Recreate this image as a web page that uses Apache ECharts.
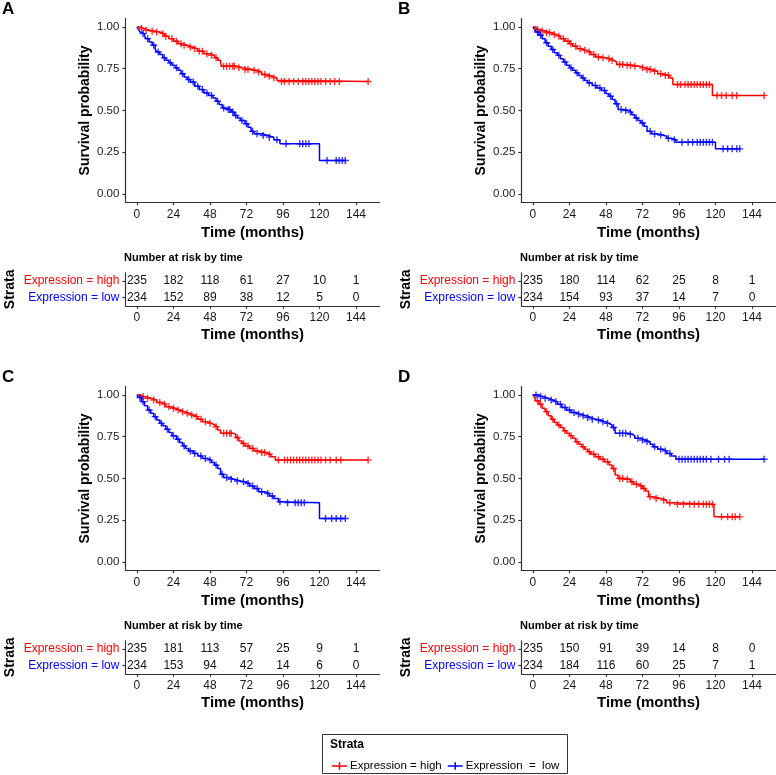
<!DOCTYPE html>
<html><head><meta charset="utf-8">
<script src="https://cdn.jsdelivr.net/npm/echarts@6/dist/echarts.min.js"></script>
<style>html,body{margin:0;padding:0;background:#fff}#c{width:776px;height:775px}</style>
</head><body><div id="c"></div>
<script>
// ---------- data ----------
const timeTicks = [0, 24, 48, 72, 96, 120, 144];
const survTicks = [0, 0.25, 0.5, 0.75, 1];
const strata = ['Expression = low', 'Expression = high'];
const panelLetters = ['A', 'B', 'C', 'D'];

// Panel A
const aHighSteps = [[0,1],[2,0.99],[5,0.98],[8,0.975],[12,0.97],[15,0.96],[18,0.945],[21,0.93],[24,0.915],[27,0.9],[30,0.89],[33,0.88],[36,0.87],[40,0.855],[44,0.84],[48,0.83],[51,0.815],[53,0.8],[55,0.78],[56,0.765],[66,0.755],[70,0.745],[76,0.74],[79,0.73],[82,0.715],[85,0.705],[89,0.695],[92,0.68],[94,0.673],[152,0.673]];
const aHighCensor = [3,6,10,13,17,19,23,26,29,31,35,38,41,43,46,49,52,57,59,61,63,64,67,71,73,77,80,84,87,90,95,97,100,103,106,109,111,113,115,117,119,121,124,127,130,133,152];
const aLowSteps = [[0,1],[1,0.985],[2,0.97],[3,0.96],[5,0.945],[6,0.93],[8,0.91],[10,0.89],[12,0.865],[13,0.85],[15,0.835],[17,0.815],[19,0.8],[21,0.785],[23,0.77],[25,0.755],[27,0.74],[29,0.72],[31,0.7],[33,0.685],[35,0.67],[38,0.645],[41,0.625],[44,0.605],[47,0.59],[50,0.575],[52,0.555],[54,0.535],[56,0.515],[58,0.505],[62,0.49],[64,0.47],[66,0.455],[68,0.44],[71,0.42],[73,0.4],[75,0.375],[77,0.36],[82,0.35],[86,0.34],[90,0.325],[94,0.3],[120,0.2],[137,0.2]];
const aLowCensor = [4,7,11,14,18,22,26,30,34,37,40,43,46,49,53,57,60,61,63,65,69,72,76,79,83,87,92,98,107,109,111,113,125,131,133,135,137];
const aRiskHigh = [235,182,118,61,27,10,1];
const aRiskLow = [234,152,89,38,12,5,0];

// Panel B
const bHighSteps = [[0,1],[2,0.985],[4,0.976],[8,0.965],[12,0.955],[15,0.945],[18,0.93],[21,0.915],[24,0.9],[26,0.885],[29,0.87],[32,0.86],[35,0.85],[38,0.835],[41,0.82],[44,0.815],[48,0.81],[51,0.8],[53,0.79],[55,0.775],[60,0.77],[66,0.765],[70,0.755],[74,0.745],[78,0.735],[82,0.72],[85,0.71],[90,0.695],[92,0.655],[118,0.59],[152,0.59]];
const bHighCensor = [3,6,9,11,14,17,20,23,25,28,31,34,37,40,43,46,50,52,57,59,62,64,67,72,75,77,80,84,87,89,95,97,100,102,104,106,108,110,112,114,116,121,124,127,131,134,152];
const bLowSteps = [[0,1],[1,0.985],[2,0.97],[4,0.95],[6,0.93],[8,0.905],[10,0.885],[12,0.865],[14,0.845],[16,0.83],[18,0.81],[20,0.79],[22,0.77],[24,0.755],[26,0.74],[28,0.725],[30,0.71],[32,0.695],[34,0.68],[36,0.665],[39,0.65],[42,0.635],[45,0.62],[48,0.6],[50,0.585],[52,0.565],[54,0.54],[56,0.505],[60,0.5],[63,0.49],[65,0.475],[67,0.455],[69,0.44],[71,0.425],[73,0.405],[75,0.375],[78,0.36],[81,0.353],[85,0.345],[88,0.333],[91,0.325],[94,0.31],[120,0.27],[136,0.27]];
const bLowCensor = [3,5,9,13,17,21,25,29,33,37,41,44,47,51,55,58,61,64,68,72,77,80,84,89,93,98,102,105,108,110,112,114,116,118,125,128,131,134,136];
const bRiskHigh = [235,180,114,62,25,8,1];
const bRiskLow = [234,154,93,37,14,7,0];

// Panel C
const cHighSteps = [[0,1],[2,0.99],[5,0.98],[9,0.97],[13,0.955],[16,0.945],[19,0.93],[22,0.92],[25,0.91],[28,0.9],[31,0.89],[34,0.88],[37,0.87],[40,0.855],[43,0.84],[46,0.83],[49,0.82],[51,0.81],[53,0.79],[55,0.77],[63,0.765],[65,0.745],[67,0.725],[69,0.71],[71,0.695],[74,0.68],[77,0.665],[80,0.655],[85,0.645],[88,0.63],[91,0.61],[152,0.61]];
const cHighCensor = [4,7,11,15,18,21,24,27,30,33,36,39,42,45,48,52,57,59,61,62,66,70,73,76,79,82,84,87,93,97,99,101,103,105,107,109,111,113,115,117,119,121,124,127,131,134,152];
const cLowSteps = [[0,1],[1,0.985],[3,0.96],[5,0.935],[7,0.91],[9,0.89],[11,0.87],[13,0.85],[15,0.83],[17,0.815],[19,0.795],[21,0.775],[23,0.755],[26,0.735],[28,0.715],[30,0.695],[32,0.68],[34,0.665],[37,0.65],[40,0.635],[43,0.62],[46,0.61],[49,0.595],[51,0.58],[53,0.56],[55,0.525],[57,0.505],[61,0.495],[64,0.485],[68,0.48],[71,0.47],[74,0.455],[77,0.44],[80,0.42],[84,0.41],[87,0.395],[90,0.38],[93,0.36],[95,0.355],[120,0.26],[137,0.26]];
const cLowCensor = [2,4,8,12,16,20,24,27,31,35,38,42,45,48,52,56,59,62,66,70,73,76,79,82,86,89,94,99,104,106,108,110,124,128,131,134,137];
const cRiskHigh = [235,181,113,57,25,9,1];
const cRiskLow = [234,153,94,42,14,6,0];

// Panel D
const dHighSteps = [[0,1],[1,0.985],[2,0.965],[4,0.945],[6,0.92],[8,0.9],[10,0.875],[12,0.855],[14,0.835],[16,0.82],[18,0.805],[20,0.785],[22,0.77],[24,0.755],[26,0.74],[28,0.72],[30,0.705],[32,0.69],[34,0.675],[36,0.66],[38,0.645],[41,0.63],[44,0.615],[47,0.6],[50,0.58],[52,0.56],[54,0.52],[56,0.5],[60,0.495],[64,0.48],[66,0.465],[69,0.455],[72,0.44],[74,0.425],[76,0.39],[79,0.38],[84,0.37],[88,0.355],[92,0.345],[119,0.27],[136,0.27]];
const dHighCensor = [3,5,9,13,17,21,25,29,33,37,40,43,46,49,53,57,59,62,65,68,71,73,77,81,86,90,95,99,103,106,109,112,114,116,118,124,128,131,133,136];
const dLowSteps = [[0,1],[3,0.99],[7,0.98],[10,0.97],[13,0.96],[16,0.945],[19,0.925],[22,0.91],[25,0.895],[28,0.885],[31,0.875],[35,0.865],[38,0.855],[41,0.85],[44,0.84],[47,0.83],[50,0.82],[52,0.805],[54,0.77],[63,0.765],[65,0.755],[67,0.74],[71,0.73],[74,0.72],[77,0.705],[79,0.69],[82,0.675],[85,0.665],[88,0.65],[91,0.635],[94,0.615],[152,0.615]];
const dLowCensor = [2,5,8,12,15,18,21,24,27,30,33,36,39,43,46,49,53,57,59,61,64,69,72,75,80,84,87,90,96,98,100,102,104,106,108,110,112,114,117,122,126,129,152];
const dRiskHigh = [235,150,91,39,14,8,0];
const dRiskLow = [234,184,116,60,25,7,1];

// ---------- build ----------
const panels = [
  {hs: aHighSteps, hc: aHighCensor, ls: aLowSteps, lc: aLowCensor, rh: aRiskHigh, rl: aRiskLow},
  {hs: bHighSteps, hc: bHighCensor, ls: bLowSteps, lc: bLowCensor, rh: bRiskHigh, rl: bRiskLow},
  {hs: cHighSteps, hc: cHighCensor, ls: cLowSteps, lc: cLowCensor, rh: cRiskHigh, rl: cRiskLow},
  {hs: dHighSteps, hc: dHighCensor, ls: dLowSteps, lc: dLowCensor, rh: dRiskHigh, rl: dRiskLow}
];
const RED = '#FF0000', BLUE = '#0000FF';
const FONT = 'Liberation Sans, Arial, sans-serif';
const plusPath = 'path://M4,0h2v10h-2z M0,4h10v2H0z';

function survAt(steps, t) {
  let s = steps[0][1];
  for (const p of steps) { if (p[0] <= t) s = p[1]; else break; }
  return s;
}

const grid = [], xAxis = [], yAxis = [], series = [], graphic = [];
const X0 = 125.4, W = 254.3;
const axisLineStyle = {color: '#333', width: 1.2};

panels.forEach((p, i) => {
  const dx = (i % 2) * 396, dy = Math.floor(i / 2) * 368;
  const gp = 2 * i, gt = 2 * i + 1;
  grid.push({left: X0 + dx, top: 18.6 + dy, width: W, height: 183.7, containLabel: false, outerBoundsMode: 'none'});
  grid.push({left: X0 + dx, top: 272.8 + dy, width: W, height: 33, containLabel: false, outerBoundsMode: 'none'});

  const xCommon = {
    type: 'value', min: -7.6, max: 159.6,
    axisLine: {show: true, onZero: false, lineStyle: axisLineStyle},
    axisTick: {show: true, length: 3, customValues: timeTicks, lineStyle: axisLineStyle},
    axisLabel: {customValues: timeTicks, color: '#1a1a1a', fontSize: 12, fontFamily: FONT, margin: 6},
    splitLine: {show: false},
    name: 'Time (months)', nameLocation: 'middle',
    nameTextStyle: {fontSize: 15, fontWeight: 'bold', color: '#000', fontFamily: FONT}
  };
  xAxis.push(Object.assign({}, xCommon, {gridIndex: gp, nameGap: 23}));
  xAxis.push(Object.assign({}, xCommon, {gridIndex: gt, nameGap: 21.5}));

  yAxis.push({
    type: 'value', gridIndex: gp, min: -0.05, max: 1.05,
    axisLine: {show: true, onZero: false, lineStyle: axisLineStyle},
    axisTick: {show: true, length: 3, customValues: survTicks, lineStyle: axisLineStyle},
    axisLabel: {customValues: survTicks, formatter: v => v.toFixed(2), color: '#1a1a1a', fontSize: 11.5, fontFamily: FONT, margin: 6},
    splitLine: {show: false},
    name: 'Survival probability', nameLocation: 'middle', nameGap: 33,
    nameTextStyle: {fontSize: 14, fontWeight: 'bold', color: '#000', fontFamily: FONT}
  });
  yAxis.push({
    type: 'category', gridIndex: gt, data: strata,
    axisLine: {show: true, onZero: false, lineStyle: axisLineStyle},
    axisTick: {show: true, length: 3, alignWithLabel: true, lineStyle: axisLineStyle},
    axisLabel: {
      margin: 6, fontSize: 12, fontFamily: FONT,
      formatter: v => (v.indexOf('high') >= 0 ? '{h|' : '{l|') + v + '}',
      rich: {h: {color: RED, fontSize: 12, fontFamily: FONT}, l: {color: BLUE, fontSize: 12, fontFamily: FONT}}
    },
    name: 'Strata', nameLocation: 'middle', nameGap: 108,
    nameTextStyle: {fontSize: 14, fontWeight: 'bold', color: '#000', fontFamily: FONT}
  });

  const curves = [
    {name: 'Expression = high', steps: p.hs, cens: p.hc, color: RED},
    {name: 'Expression = low', steps: p.ls, cens: p.lc, color: BLUE}
  ];
  curves.forEach(c => {
    series.push({
      type: 'line', name: c.name, xAxisIndex: gp, yAxisIndex: gp, step: 'end',
      data: c.steps, showSymbol: false, symbol: 'none', color: c.color,
      lineStyle: {color: c.color, width: 1.5}, z: 3
    });
    series.push({
      type: 'scatter', name: c.name + ' censor', xAxisIndex: gp, yAxisIndex: gp,
      data: c.cens.map(t => [t, survAt(c.steps, t)]),
      symbol: plusPath, symbolSize: 7, itemStyle: {color: c.color}, z: 4
    });
  });

  const riskData = [];
  timeTicks.forEach((t, k) => {
    riskData.push([t, 'Expression = high', p.rh[k]]);
    riskData.push([t, 'Expression = low', p.rl[k]]);
  });
  series.push({
    type: 'scatter', name: 'risk' + i, xAxisIndex: gt, yAxisIndex: gt,
    data: riskData, symbolSize: 0.1, itemStyle: {color: '#000', opacity: 0},
    label: {show: true, position: 'inside', formatter: q => String(q.value[2]),
      color: '#111', fontSize: 12, fontFamily: FONT, textBorderWidth: 0, textBorderColor: 'transparent', opacity: 1}
  });

  graphic.push({type: 'text', left: 2 + dx, top: 1 + dy,
    style: {text: panelLetters[i], font: 'bold 17px ' + FONT, fill: '#000'}});
  graphic.push({type: 'text', left: 124 + dx, top: 252 + dy,
    style: {text: 'Number at risk by time', font: 'bold 11px ' + FONT, fill: '#000'}});
});

// legend box
graphic.push({type: 'rect', shape: {x: 322.5, y: 734.5, width: 245, height: 39},
  style: {fill: '#fff', stroke: '#333', lineWidth: 1}, z: -1});
graphic.push({type: 'text', left: 330, top: 739,
  style: {text: 'Strata', font: 'bold 12px ' + FONT, fill: '#000'}});

const legendIcon = 'path://M0,4h20v2H0z M9,0h2v10h-2z';
const option = {
  animation: false,
  backgroundColor: '#fff',
  grid, xAxis, yAxis, series, graphic,
  legend: {
    left: 327, top: 755, itemWidth: 15, itemHeight: 8, itemGap: 6,
    textStyle: {fontSize: 11.5, fontFamily: FONT, color: '#000', padding: [0, 0, 0, -2]},
    data: [{name: 'Expression = high', icon: legendIcon}, {name: 'Expression = low', icon: legendIcon}],
    formatter: n => n === 'Expression = low' ? 'Expression  =  low' : n,
    selectedMode: false
  }
};
const chart = echarts.init(document.getElementById('c'), null, {renderer: 'canvas'});
chart.setOption(option);
</script></body></html>
